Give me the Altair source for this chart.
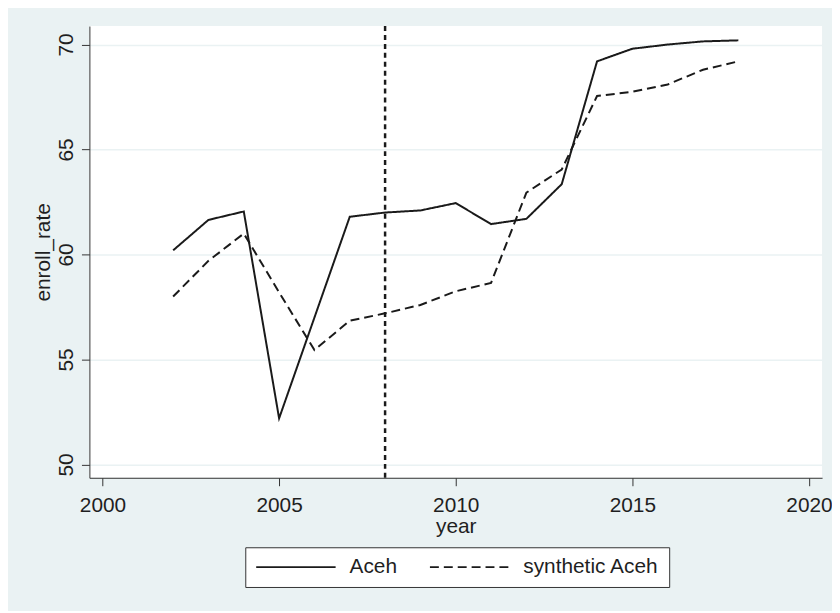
import altair as alt
import pandas as pd

years = list(range(2002, 2019))
aceh = [60.2, 61.65, 62.05, 52.2, 57.0, 61.8, 62.0, 62.1, 62.45, 61.45,
        61.7, 63.35, 69.2, 69.8, 70.0, 70.15, 70.2]
synthetic = [58.0, 59.7, 61.0, 58.2, 55.45, 56.85, 57.2, 57.6, 58.25, 58.65,
             62.95, 64.05, 67.55, 67.75, 68.1, 68.8, 69.2]
series_names = ["Aceh", "synthetic Aceh"]
x_ticks = [2000, 2005, 2010, 2015, 2020]
y_ticks = [50, 55, 60, 65, 70]
treatment_year = [2008]

rows = []
for y, a, s in zip(years, aceh, synthetic):
    rows.append({"year": y, "enroll_rate": a, "series": series_names[0]})
    rows.append({"year": y, "enroll_rate": s, "series": series_names[1]})
df = pd.DataFrame(rows)
df_rule = pd.DataFrame({"year": treatment_year})

FONT = "Liberation Sans"
TXT = "#1f1f1f"
BG = "#EAF2F3"

x_scale = alt.Scale(domain=[1999.63, 2020.37], nice=False, zero=False)
y_scale = alt.Scale(domain=[49.37, 70.88], nice=False, zero=False)

x_axis = alt.Axis(
    values=x_ticks, format="d", title="year", grid=False,
    labelFontSize=21, labelFont=FONT, labelColor=TXT,
    labelBaseline="alphabetic", labelPadding=26,
    tickSize=8, tickColor="#333333", domainColor="#333333",
    titleFontSize=21, titleFont=FONT, titleColor=TXT, titleFontWeight="normal",
    titleBaseline="alphabetic", titleY=55, titleX=369,
)
y_axis = alt.Axis(
    values=y_ticks, title="enroll_rate", grid=True,
    gridColor=BG, gridWidth=1.5,
    labelFontSize=21, labelFont=FONT, labelColor=TXT,
    labelAngle=270, labelAlign="center", labelBaseline="alphabetic",
    labelPadding=9,
    tickSize=8, tickColor="#333333", domainColor="#333333",
    titleFontSize=21, titleFont=FONT, titleColor=TXT, titleFontWeight="normal",
    titleAngle=270, titleAlign="center", titleBaseline="alphabetic",
    titleX=-40, titleY=227.5,
)

lines = alt.Chart(df).mark_line(strokeWidth=2, color="#1a1a1a").encode(
    x=alt.X("year:Q", scale=x_scale, axis=x_axis),
    y=alt.Y("enroll_rate:Q", scale=y_scale, axis=y_axis),
    strokeDash=alt.StrokeDash(
        "series:N",
        scale=alt.Scale(domain=series_names, range=[[1, 0], [9, 5]]),
        legend=alt.Legend(
            title=None, orient="none", legendX=157, legendY=525,
            direction="horizontal", symbolType="stroke", symbolSize=6400,
            symbolStrokeWidth=2, symbolStrokeColor="#1a1a1a",
            labelFontSize=21, labelFont=FONT, labelColor=TXT,
            labelOffset=13, columnPadding=32, padding=10, clipHeight=20,
            strokeColor="#333333", fillColor="white",
        ),
    ),
    detail="series:N",
)

rule = alt.Chart(df_rule).mark_rule(
    strokeWidth=2.5, strokeDash=[5, 4], color="#1a1a1a"
).encode(x=alt.X("year:Q", scale=x_scale))

chart = alt.layer(rule, lines).properties(
    width=738, height=455,
    autosize=alt.AutoSizeParams(type="none"),
    padding={"left": 82, "top": 16, "right": 10, "bottom": 132},
    background=BG,
).configure_view(fill="white", stroke=None)

chart.save("out.html", embed_options={"renderer": "svg", "actions": False})
